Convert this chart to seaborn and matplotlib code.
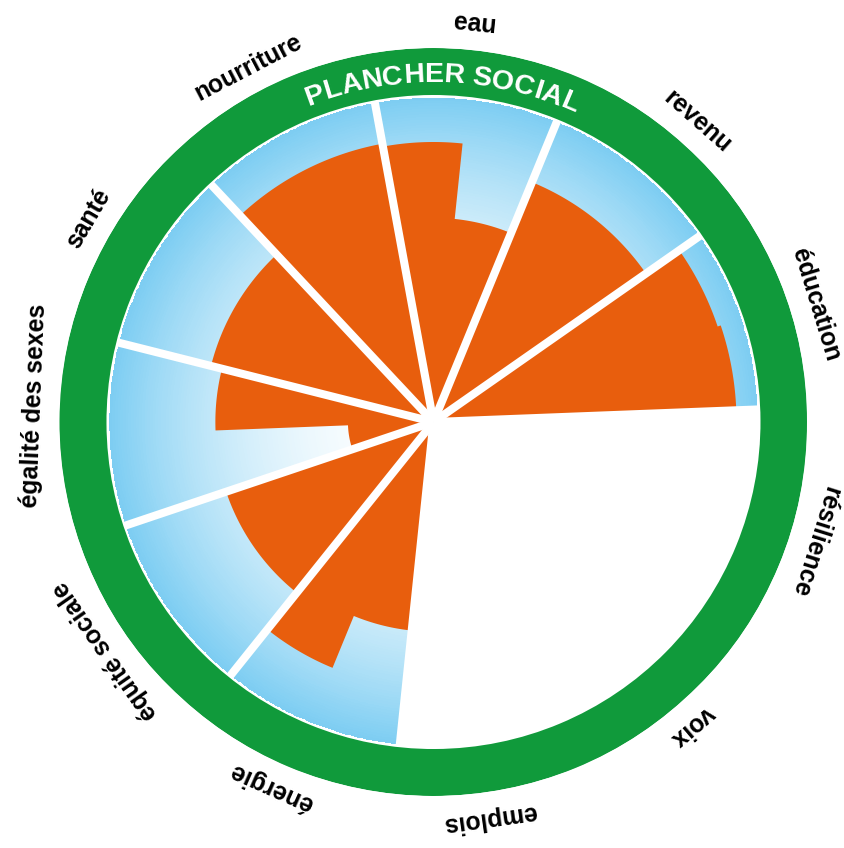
"""
Plancher social (doughnut) : manques par dimension sociale.
Secteurs polaires avec fond en dégradé, barres orange et anneau vert.
"""

import numpy as np
import matplotlib
matplotlib.use("Agg")
import matplotlib.pyplot as plt
import seaborn as sns
from matplotlib.font_manager import FontProperties

sns.set_theme(style="white")
plt.rcParams['font.family'] = ['Liberation Sans', 'DejaVu Sans']

# Dimensions, dans le sens horaire à partir du haut
CATEGORIES = ["eau", "revenu", "éducation", "résilience", "voix", "emplois",
              "énergie", "équité sociale", "égalité des sexes", "santé", "nourriture"]

# Rayon atteint par chaque demi-secteur (100 = plancher social), NaN = pas de données
FIRST_HALF = [86.4, 80.0, 92.5, np.nan, np.nan, np.nan, 64.7, 67.5, 26.4, 70.8, 87.3]
SECOND_HALF = [63.0, 80.0, 93.5, np.nan, np.nan, np.nan, 82.0, 67.5, 67.3, 70.8, 87.3]

RING_TITLE = "PLANCHER SOCIAL"

# Géométrie
FOUNDATION = 100.0
RING_INNER = 100.9
RING_OUTER = 115.4
START_DEG = -10.4
LABEL_R = 123.4
# petits décalages angulaires des étiquettes (degrés), comme sur l'original
LABEL_SHIFT = [0, 2.7, 1.5, 3.2, 2.7, 2.4, 1.7, 0, 4.5, 0, -0.8]
TITLE_R = 104.9          # ligne de base du titre courbe
TITLE_CENTER_DEG = 1.5
PX_PER_UNIT = 374 / RING_OUTER

# Couleurs
ORANGE = '#e85e0d'
GREEN = '#109a3b'
BLUE = '#7dcdf2'


def main():
    first = np.array(FIRST_HALF, dtype=float)
    second = np.array(SECOND_HALF, dtype=float)
    has_data = ~np.isnan(first)

    n = len(CATEGORIES)
    sector = 2 * np.pi / n
    start = np.deg2rad(START_DEG)
    edges = start + sector * np.arange(n + 1)
    centers = edges[:-1] + sector / 2

    fig = plt.figure(figsize=(8.45, 8.48), dpi=100)
    ax = fig.add_axes([0.0704, 0.0613, 0.8852, 0.8821], projection='polar')
    ax.set_theta_zero_location('N')
    ax.set_theta_direction(-1)

    # Fond bleu en dégradé radial (seulement pour les secteurs avec données)
    theta_grid = np.linspace(start, start + 2 * np.pi, n * 60 + 1)
    r_grid = np.linspace(0, FOUNDATION, 121)
    T, R = np.meshgrid(theta_grid, r_grid)
    t_mid = (T[:-1, :-1] + T[1:, 1:]) / 2
    r_mid = (R[:-1, :-1] + R[1:, 1:]) / 2
    idx = np.clip(((t_mid - start) // sector).astype(int), 0, n - 1)
    values = np.ma.masked_array((r_mid / FOUNDATION) ** 2, mask=~has_data[idx])
    cmap = sns.blend_palette(['#ffffff', BLUE], as_cmap=True)
    ax.pcolormesh(T, R, values, cmap=cmap, vmin=0, vmax=1, shading='flat')

    # Secteurs orange : un polygone en escalier par dimension (deux demi-secteurs)
    for i in np.where(has_data)[0]:
        t_a = np.linspace(edges[i], centers[i], 40)
        t_b = np.linspace(centers[i], edges[i + 1], 40)
        thetas = np.concatenate([[edges[i]], t_a, t_b, [edges[i + 1]]])
        radii = np.concatenate([[0], np.full(40, first[i]), np.full(40, second[i]), [0]])
        ax.fill(thetas, radii, color=ORANGE, linewidth=0)

    # Rayons blancs entre les secteurs
    for e in edges[:-1]:
        ax.plot([e, e], [0, FOUNDATION + 0.6], color='white', lw=5.8,
                solid_capstyle='butt')

    # Anneau vert
    ax.bar(0, RING_OUTER - RING_INNER, width=2 * np.pi + 0.01, bottom=RING_INNER,
           color=GREEN, linewidth=0)

    # Étiquettes des dimensions
    for c, shift, name in zip(centers, LABEL_SHIFT, CATEGORIES):
        ang = c + np.deg2rad(shift)
        ax.text(ang, LABEL_R, name, rotation=-np.rad2deg(ang), rotation_mode='anchor',
                ha='center', va='center', fontsize=17.8, fontweight='bold',
                color='black', clip_on=False)

    # Titre courbe dans l'anneau
    fp = FontProperties(family='Liberation Sans', weight='bold', size=20.5)
    renderer = fig.canvas.get_renderer()

    def width(s):
        return renderer.get_text_width_height_descent(s, fp, ismath=False)[0]

    adv = [width('x' + ch + 'x') - width('xx') for ch in RING_TITLE]
    r_px = TITLE_R * PX_PER_UNIT
    span = sum(adv) / r_px
    a0 = np.deg2rad(TITLE_CENTER_DEG) - span / 2
    cum = 0.0
    for ch, a in zip(RING_TITLE, adv):
        ang = a0 + (cum + a / 2) / r_px
        if ch.strip():
            ax.text(ang, TITLE_R, ch, rotation=-np.rad2deg(ang), rotation_mode='anchor',
                    ha='center', va='baseline', fontproperties=fp, color='white')
        cum += a

    ax.set_ylim(0, RING_OUTER)
    ax.set_axis_off()

    fig.savefig('out.png', dpi=100, facecolor='white')
    plt.close(fig)


if __name__ == "__main__":
    main()
